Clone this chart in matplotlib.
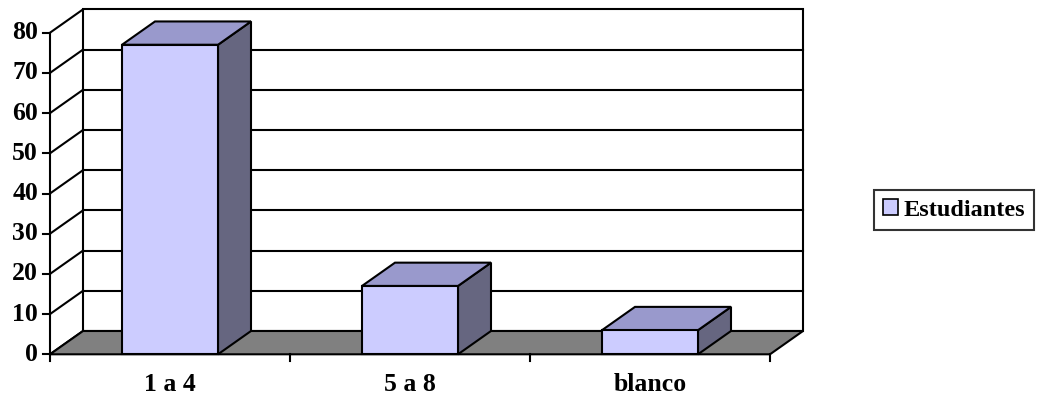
import matplotlib
matplotlib.use("Agg")
import matplotlib.pyplot as plt
from matplotlib.patches import Polygon, Patch

categories = ["1 a 4", "5 a 8", "blanco"]
values = [77, 17, 6]
series_name = "Estudiantes"
yticks = [0, 10, 20, 30, 40, 50, 60, 70, 80]

FRONT = "#CCCCFF"
TOP = "#9999CC"
SIDE = "#666680"
FLOOR = "#808080"
LW = 1.5
FONT = dict(family="Liberation Serif", weight="bold", size=18.5)

W, H = 1038, 400
fig = plt.figure(figsize=(W / 100, H / 100), dpi=100)
ax = fig.add_axes([0, 0, 1, 1])
ax.axis("off")

# pixel calibration: category unit = 240 px, value unit = 4.02 px
x0px, catpx = 50, 240.0
y0px, valpx = 354.3, 4.02
ax.set_xlim(-x0px / catpx, (W - x0px) / catpx)
ax.set_ylim((y0px - H) / valpx, y0px / valpx)

n = len(categories)
ymax = yticks[-1]
dx = 33 / catpx      # depth offset in category units
dy = 23.3 / valpx    # depth offset in value units
barw = 0.4

def poly(pts, fc, z, ec="black", lw=LW):
    ax.add_patch(Polygon(pts, closed=True, facecolor=fc, edgecolor=ec,
                         linewidth=lw, zorder=z, joinstyle="miter"))

# back wall
poly([(dx, dy), (n + dx, dy), (n + dx, ymax + dy), (dx, ymax + dy)], "white", 1)
# back gridlines
for v in yticks[1:-1]:
    ax.plot([dx, n + dx], [v + dy, v + dy], color="black", lw=LW, zorder=2)
# side wall diagonals
for v in yticks:
    ax.plot([0, dx], [v, v + dy], color="black", lw=LW, zorder=2,
            solid_capstyle="butt")
# floor
poly([(0, 0), (n, 0), (n + dx, dy), (dx, dy)], FLOOR, 3)

# bars
for i, v in enumerate(values):
    xa = i + 0.5 - barw / 2
    xb = i + 0.5 + barw / 2
    z = 4 + i
    poly([(xb, 0), (xb + dx, dy), (xb + dx, v + dy), (xb, v)], SIDE, z)
    poly([(xa, v), (xb, v), (xb + dx, v + dy), (xa + dx, v + dy)], TOP, z)
    poly([(xa, 0), (xb, 0), (xb, v), (xa, v)], FRONT, z)

# front value axis
ax.plot([0, 0], [0, ymax], color="black", lw=LW, zorder=10)
tick_len_x = 7 / catpx
for v in yticks:
    ax.plot([-tick_len_x, 0], [v, v], color="black", lw=LW, zorder=10)
    ax.text(-12 / catpx, v, str(v), ha="right", va="center", **FONT)

# category ticks and labels
tick_len_y = 7 / valpx
for k in range(n + 1):
    ax.plot([k, k], [0, -tick_len_y], color="black", lw=LW, zorder=10)
for i, c in enumerate(categories):
    ax.text(i + 0.5, -30 / valpx, c, ha="center", va="center", **FONT)

# legend
leg = ax.legend(handles=[Patch(facecolor=FRONT, edgecolor="black", linewidth=1.2,
                               label=series_name)],
                loc="center left",
                bbox_to_anchor=(874 / W, 1 - 210 / H),
                frameon=True, fancybox=False, shadow=False,
                edgecolor="black", borderaxespad=0, borderpad=0.38,
                handlelength=0.62, handleheight=0.62, handletextpad=0.2,
                prop=dict(family="Liberation Serif", weight="bold", size=17.5))
leg.get_frame().set_linewidth(LW)
leg.set_zorder(20)

fig.savefig("out.png", dpi=100)
